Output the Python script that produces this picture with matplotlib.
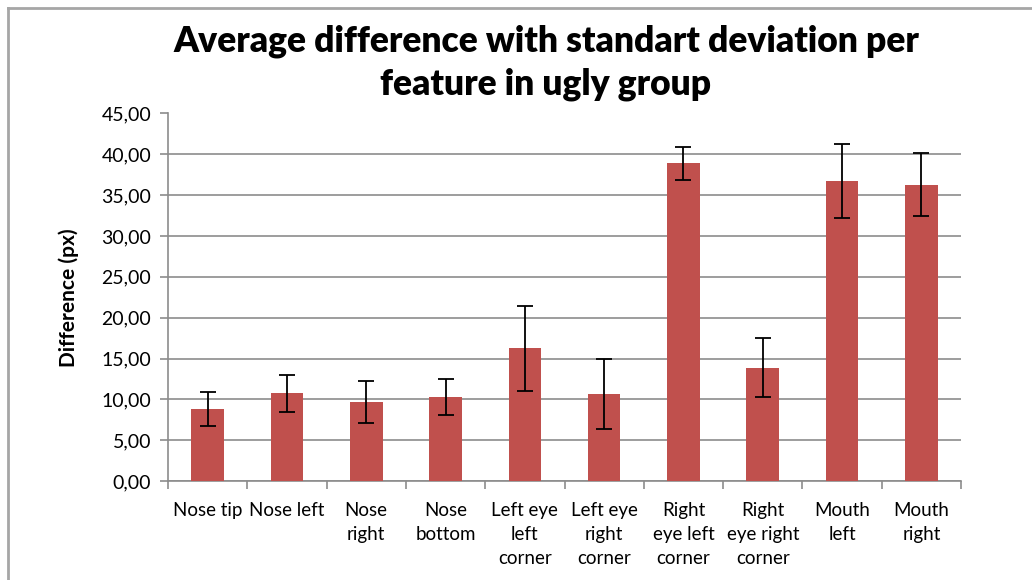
import matplotlib.pyplot as plt
from matplotlib.lines import Line2D
from matplotlib.ticker import FuncFormatter
import numpy as np

# average difference and standard deviation per landmark (ugly group)
features = ["Nose tip", "Nose left", "Nose\nright", "Nose\nbottom",
            "Left eye\nleft\ncorner", "Left eye\nright\ncorner",
            "Right\neye left\ncorner", "Right\neye right\ncorner",
            "Mouth\nleft", "Mouth\nright"]
avg_diff = [8.78, 10.72, 9.72, 10.32, 16.25, 10.70, 38.88, 13.89, 36.75, 36.30]
std_diff = [2.08, 2.30, 2.57, 2.18, 5.17, 4.30, 2.07, 3.66, 4.50, 3.88]

plt.rcParams['font.family'] = ['Lato', 'DejaVu Sans']

fig = plt.figure(figsize=(10.32, 5.8), dpi=100)
ax = fig.add_axes([168 / 1032, 1 - 481 / 580, (961 - 168) / 1032, (481 - 113.5) / 580])

x = np.arange(len(features))
ax.bar(x, avg_diff, width=0.41, color="#C0504D", zorder=3)
ax.errorbar(x, avg_diff, yerr=std_diff, fmt="none", ecolor="black",
            elinewidth=1.3, capsize=6, capthick=1.3, zorder=4)

ax.set_xlim(-0.5, len(features) - 0.5)
ax.set_ylim(0, 45)
ax.set_yticks(np.arange(0, 46, 5))
ax.yaxis.set_major_formatter(FuncFormatter(lambda v, p: f"{v:.2f}".replace(".", ",")))
ax.grid(axis="y", color="#8c8c8c", linewidth=1.2, zorder=0)

# category ticks sit on the boundaries between bars
ax.set_xticks(np.arange(-0.5, len(features), 1.0))
ax.set_xticklabels([])
ax.set_xticks(x, minor=True)
ax.set_xticklabels(features, minor=True, fontsize=13.5, linespacing=1.5, va="top")
ax.tick_params(axis="x", which="minor", length=0, pad=15)
ax.tick_params(axis="x", which="major", length=6, color="#8c8c8c", width=1.2)
ax.tick_params(axis="y", length=6, color="#8c8c8c", width=1.2, labelsize=14, pad=6)

for side in ["top", "right"]:
    ax.spines[side].set_visible(False)
for side in ["left", "bottom"]:
    ax.spines[side].set_color("#8c8c8c")
    ax.spines[side].set_linewidth(1.2)

ax.set_ylabel("Difference (px)", fontsize=15, fontweight="bold", labelpad=16)

fig.text(546 / 1032, 1 - 41 / 580, "Average difference with standart deviation per",
         ha="center", va="center", fontsize=25.5, fontweight="heavy")
fig.text(546 / 1032, 1 - 84 / 580, "feature in ugly group",
         ha="center", va="center", fontsize=25.5, fontweight="heavy")

# chart area border (top and left edges)
fig.add_artist(Line2D([8 / 1032, 1], [1 - 8 / 580, 1 - 8 / 580], color="#a6a6a6", linewidth=2))
fig.add_artist(Line2D([8 / 1032, 8 / 1032], [0, 1 - 8 / 580], color="#a6a6a6", linewidth=2))

fig.savefig("out.png", dpi=100)
